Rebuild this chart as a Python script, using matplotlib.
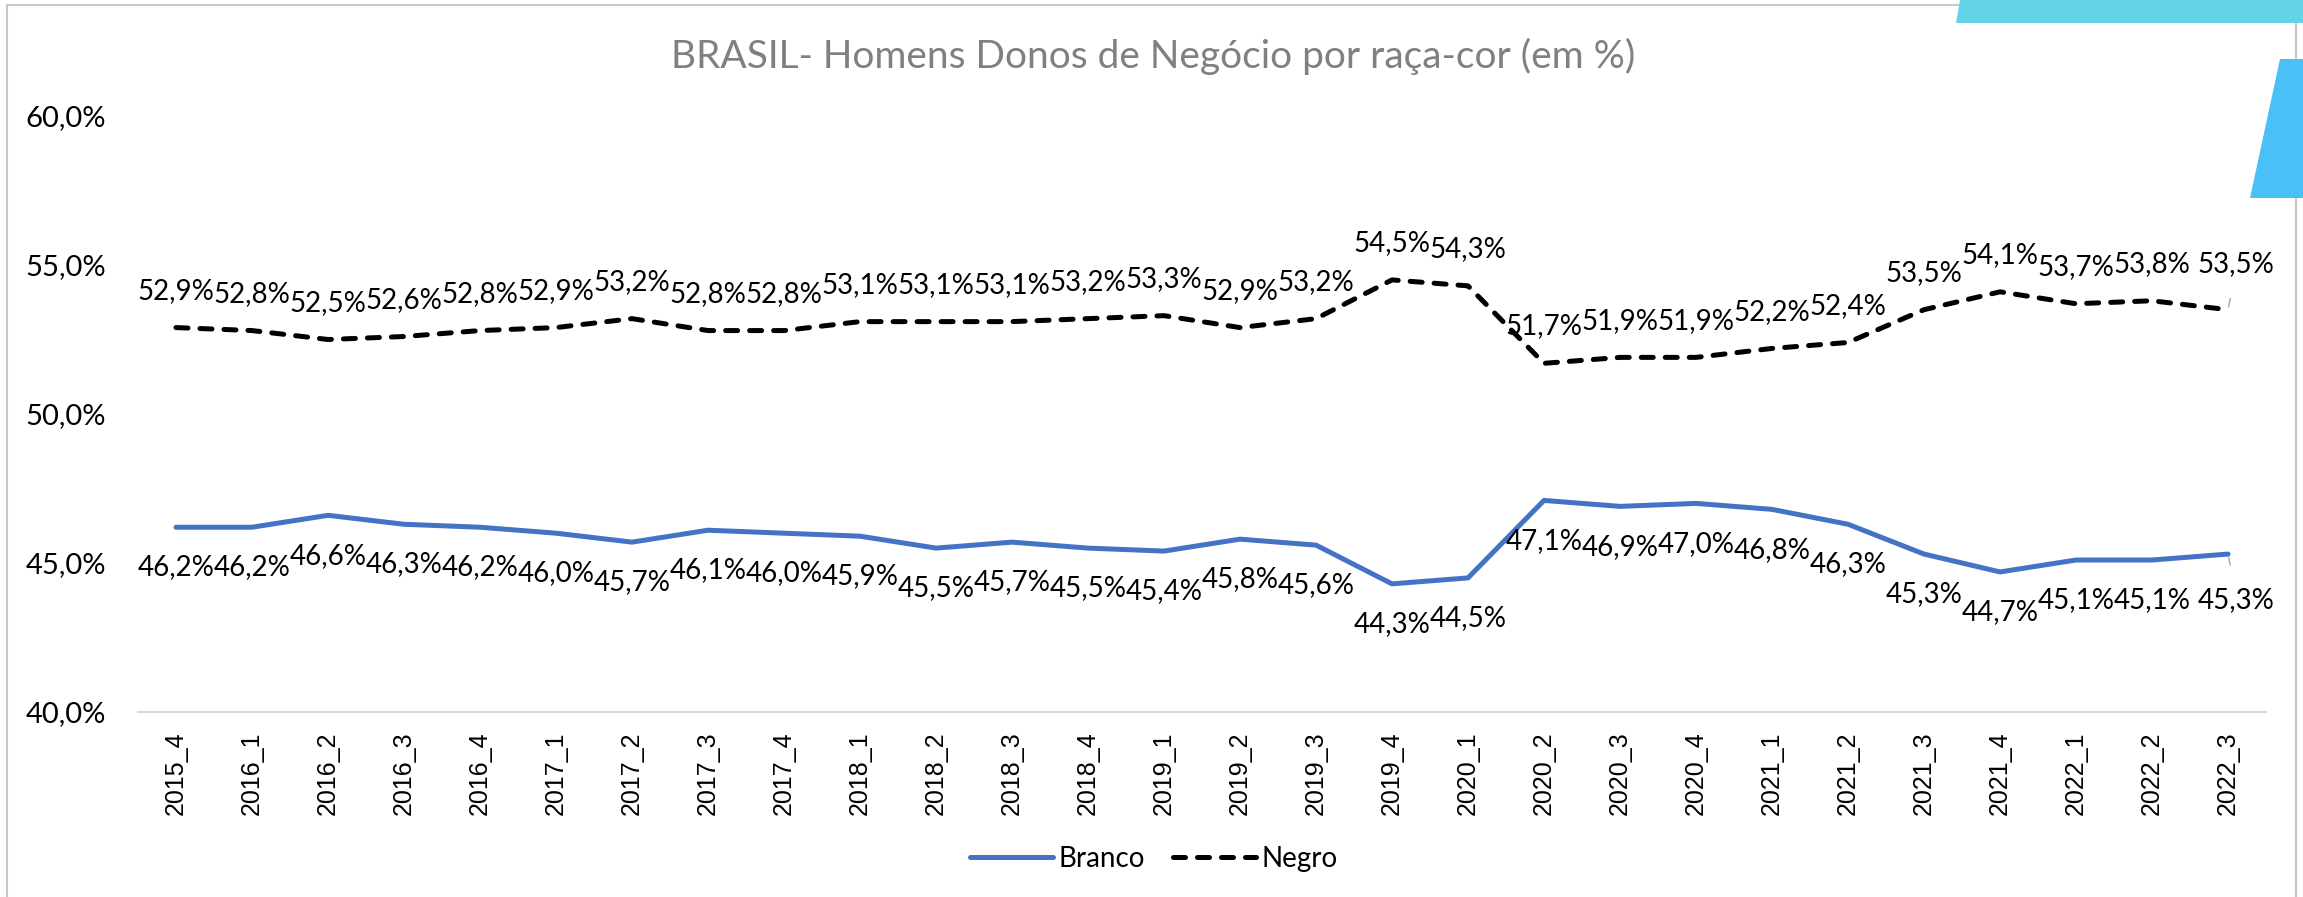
import matplotlib
matplotlib.use('Agg')
import matplotlib.pyplot as plt
from matplotlib.patches import Polygon
from matplotlib.lines import Line2D

# Data
quarters = ['2015_4', '2016_1', '2016_2', '2016_3', '2016_4', '2017_1', '2017_2',
            '2017_3', '2017_4', '2018_1', '2018_2', '2018_3', '2018_4', '2019_1',
            '2019_2', '2019_3', '2019_4', '2020_1', '2020_2', '2020_3', '2020_4',
            '2021_1', '2021_2', '2021_3', '2021_4', '2022_1', '2022_2', '2022_3']
branco = [46.2, 46.2, 46.6, 46.3, 46.2, 46.0, 45.7, 46.1, 46.0, 45.9, 45.5, 45.7, 45.5, 45.4,
          45.8, 45.6, 44.3, 44.5, 47.1, 46.9, 47.0, 46.8, 46.3, 45.3, 44.7, 45.1, 45.1, 45.3]
negro = [52.9, 52.8, 52.5, 52.6, 52.8, 52.9, 53.2, 52.8, 52.8, 53.1, 53.1, 53.1, 53.2, 53.3,
         52.9, 53.2, 54.5, 54.3, 51.7, 51.9, 51.9, 52.2, 52.4, 53.5, 54.1, 53.7, 53.8, 53.5]
y_ticks = [40, 45, 50, 55, 60]

title = 'BRASIL- Homens Donos de Negócio por raça-cor (em %)'

W, H = 2303, 897
LABEL_FONT = 'Lato'


def px(x, y):
    # pixel coords (from top-left) to figure fraction
    return (x / W, 1 - y / H)


def fmt(v):
    return f'{v:.1f}'.replace('.', ',') + '%'


fig = plt.figure(figsize=(W / 100, H / 100), dpi=100)
ax_left, ax_right = 138, 2266
ax_top, ax_bottom = 116, 712
ax = fig.add_axes([ax_left / W, 1 - ax_bottom / H, (ax_right - ax_left) / W, (ax_bottom - ax_top) / H])

x = list(range(len(quarters)))
ax.plot(x, branco, color='#4472C4', lw=3.6, solid_capstyle='round', solid_joinstyle='round',
        label='Branco', zorder=3)
ax.plot(x, negro, color='black', lw=3.6, dashes=(2.4, 2.4), dash_capstyle='round',
        label='Negro', zorder=3)

# data labels
last = len(quarters) - 1
lbl = dict(ha='center', va='center', fontsize=20, family=LABEL_FONT, color='black')
for i, v in enumerate(negro):
    if i == last:
        ax.annotate(fmt(v), (i, v), xytext=(6, 33), textcoords='offset points', **lbl)
        ax.annotate('', (i, v), xytext=(2, 10), textcoords='offset points',
                    arrowprops=dict(arrowstyle='-', color='#a6a6a6', lw=1))
    else:
        ax.annotate(fmt(v), (i, v), xytext=(0, 26.5), textcoords='offset points', **lbl)
for i, v in enumerate(branco):
    if i == last:
        ax.annotate(fmt(v), (i, v), xytext=(6, -33), textcoords='offset points', **lbl)
        ax.annotate('', (i, v), xytext=(2, -10), textcoords='offset points',
                    arrowprops=dict(arrowstyle='-', color='#a6a6a6', lw=1))
    else:
        ax.annotate(fmt(v), (i, v), xytext=(0, -29), textcoords='offset points', **lbl)

ax.set_xlim(-0.5, len(quarters) - 0.5)
ax.set_ylim(40, 60)
ax.set_yticks(y_ticks)
ax.set_yticklabels([fmt(t) for t in y_ticks], fontsize=21, family=LABEL_FONT)
ax.set_xticks(x)
ax.set_xticklabels(quarters, rotation=90, fontsize=18, family='Liberation Sans')
ax.tick_params(axis='y', length=0, pad=23)
ax.tick_params(axis='x', length=0, pad=14)
for s in ['top', 'left', 'right']:
    ax.spines[s].set_visible(False)
ax.spines['bottom'].set_color('#d9d9d9')
ax.spines['bottom'].set_linewidth(1.5)

# title
fig.text(*px(1153, 56), title, ha='center', va='center', fontsize=28, color='#808080',
         family=LABEL_FONT)

# legend
leg = fig.legend(loc='center', bbox_to_anchor=px(1154, 859), ncol=2, frameon=False,
                 prop={'family': LABEL_FONT, 'size': 20}, handlelength=3,
                 handletextpad=0.2, columnspacing=1.0)

# chart border
border = dict(color='#c8c8c8', lw=1.5, transform=fig.transFigure, zorder=1)
fig.add_artist(Line2D([px(7, 5)[0], px(2296, 5)[0]], [px(7, 5)[1]] * 2, **border))
fig.add_artist(Line2D([px(7, 5)[0]] * 2, [px(7, 5)[1], 0], **border))

# decorations at top right
fig.add_artist(Polygon([px(1960, 0), px(2303, 0), px(2303, 23), px(1956, 23)],
                       closed=True, facecolor='#63D4E6', edgecolor='none',
                       transform=fig.transFigure, zorder=2))
fig.add_artist(Polygon([px(2280, 59), px(2303, 59), px(2303, 198), px(2250, 198)],
                       closed=True, facecolor='#4BC0F6', edgecolor='none',
                       transform=fig.transFigure, zorder=2))
fig.add_artist(Line2D([px(2296, 5)[0]] * 2, [px(2296, 5)[1], 0], **border))

fig.savefig('out.png', dpi=100)
